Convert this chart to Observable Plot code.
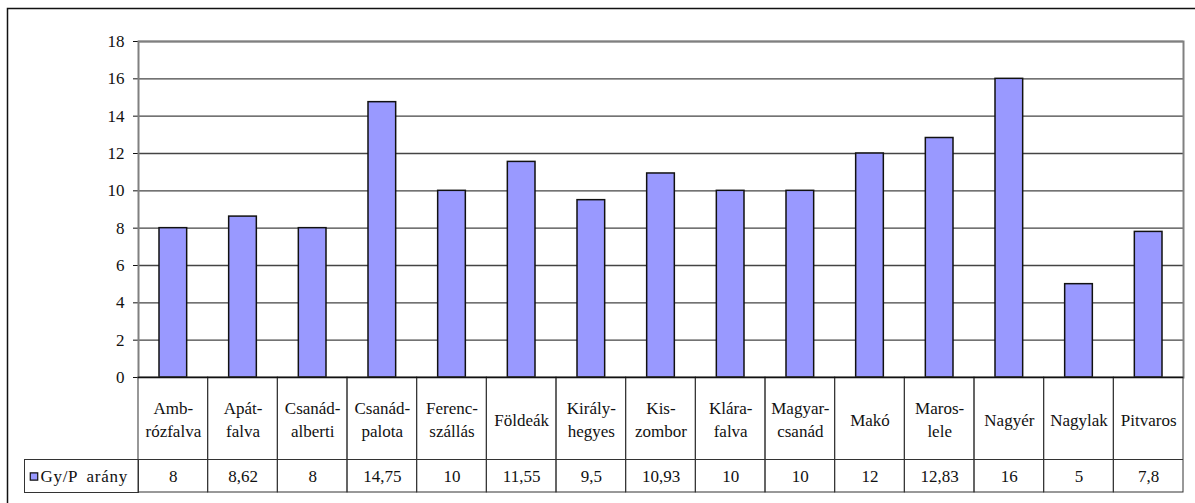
<!DOCTYPE html>
<html>
<head>
<meta charset="utf-8">
<script src="https://cdn.jsdelivr.net/npm/d3@7"></script>
<script src="https://cdn.jsdelivr.net/npm/@observablehq/plot@0.6"></script>
<style>
  html, body { margin: 0; padding: 0; background: white; overflow: hidden; }
  #chart svg { overflow: hidden; display: block; font-family: "Liberation Serif", "Times New Roman", serif; }
  #chart svg text { font-family: "Liberation Serif", "Times New Roman", serif; }
</style>
</head>
<body>
<div id="chart"></div>
<script>
const categories = ["Ambrózfalva", "Apátfalva", "Csanádalberti", "Csanádpalota", "Ferencszállás", "Földeák", "Királyhegyes", "Kiszombor", "Klárafalva", "Magyarcsanád", "Makó", "Maroslele", "Nagyér", "Nagylak", "Pitvaros"];
const labels = ["Amb-\nrózfalva", "Apát-\nfalva", "Csanád-\nalberti", "Csanád-\npalota", "Ferenc-\nszállás", "Földeák", "Király-\nhegyes", "Kis-\nzombor", "Klára-\nfalva", "Magyar-\ncsanád", "Makó", "Maros-\nlele", "Nagyér", "Nagylak", "Pitvaros"];
const values = [8, 8.62, 8, 14.75, 10, 11.55, 9.5, 10.93, 10, 10, 12, 12.83, 16, 5, 7.8];
const seriesName = "Gy/P arány";
const yTicks = [0, 2, 4, 6, 8, 10, 12, 14, 16, 18];

const data = categories.map((c, i) => ({name: c, label: labels[i], value: values[i]}));
const fmt = v => String(v).replace(".", ",");
const serif = "Liberation Serif";

const plot = Plot.plot({
  width: 1195,
  height: 503,
  marginLeft: 138,
  marginRight: 12,
  marginTop: 41,
  marginBottom: 126,
  style: "font-family: 'Liberation Serif', serif; font-size: 17px; background: white; color: #111;",
  x: {domain: categories, padding: 0, round: false, axis: null},
  y: {domain: [0, 18], ticks: yTicks, tickSize: 5, tickPadding: 9, label: null, line: true, tickFormat: d => d},
  marks: [
    // outer chart border (right/bottom fall outside the picture)
    Plot.frame({stroke: "#111", strokeWidth: 1.5, insetLeft: -131, insetTop: -33, insetRight: -40, insetBottom: -200}),
    // gridlines
    Plot.ruleY(yTicks.filter(t => t > 0), {stroke: "#444", strokeWidth: 1.3}),
    // plot area border
    Plot.frame({stroke: "#808080", strokeWidth: 2}),
    // bars
    Plot.barY(data, {x: "name", y: "value", fill: "#9999FF", stroke: "#111", strokeWidth: 1.5, insetLeft: 21, insetRight: 21}),
    // data table cells
    Plot.cell(data, {x: "name", fill: "none", stroke: "#333", strokeWidth: 1, insetTop: 336, insetBottom: -115}),
    Plot.ruleY([0], {dy: 82, insetLeft: -114, stroke: "#333", strokeWidth: 1}),
    Plot.frame({stroke: "#333", strokeWidth: 1, insetLeft: -114, insetRight: 1045, insetTop: 418, insetBottom: -115}),
    Plot.ruleY([0], {stroke: "#111", strokeWidth: 1.2}),
    // category labels
    Plot.text(data, {x: "name", text: "label", frameAnchor: "bottom", dy: 41, lineAnchor: "middle", lineHeight: 1.35, fontSize: 17, fontFamily: serif, fill: "#111"}),
    // values row
    Plot.text(data, {x: "name", text: d => fmt(d.value), frameAnchor: "bottom", dy: 99, lineAnchor: "middle", fontSize: 17, fontFamily: serif, fill: "#111"}),
    // legend key
    Plot.dot([seriesName], {frameAnchor: "bottom-left", dx: -104.5, dy: 99, symbol: "square", r: 4.2, fill: "#9999FF", stroke: "#111", strokeWidth: 1.2}),
    Plot.text([seriesName], {frameAnchor: "bottom-left", dx: -98, dy: 99, text: d => d, textAnchor: "start", lineAnchor: "middle", fontSize: 17, fontFamily: serif, fill: "#111"})
  ]
});
d3.select(plot).attr("font-family", serif).attr("font-size", 17);
d3.select(plot).selectAll("text").filter(function() { return this.textContent === seriesName; })
  .style("letter-spacing", "0.7px").style("word-spacing", "4px");
document.getElementById("chart").appendChild(plot);
</script>
</body>
</html>
